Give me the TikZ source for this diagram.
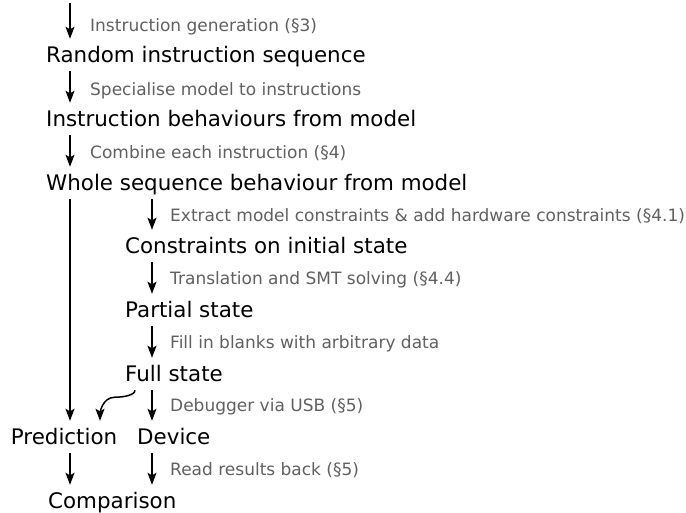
\documentclass[tikz,border=0pt]{standalone}
\usepackage{fontspec}
\setmainfont{DejaVu Sans}
\usetikzlibrary{arrows.meta}
\definecolor{tfink}{HTML}{000000}
\definecolor{tfgrey}{HTML}{606060}
\tikzset{
  tf stage/.style={font=\fontsize{21.4}{25}\selectfont, text=tfink, inner sep=0pt,
    anchor=base west, text height=16pt, text depth=5pt},
  tf note/.style={font=\fontsize{17}{20}\selectfont, text=tfgrey, inner sep=0pt,
    anchor=base west},
  tf arrow/.style={-{Stealth[length=12pt,width=9pt,inset=2.5pt]}, line width=1.5pt,
    draw=tfink, shorten <=4pt, shorten >=7pt}
}

\begin{document}
\begin{tikzpicture}[x=1pt, y=-1pt]
  \useasboundingbox (0,0) rectangle (686,512);
  % stages
  \coordinate (start) at (70,-1);
  \node[tf stage] (rand)  at (46,62)  {Random instruction sequence};
  \node[tf stage] (instr) at (46,126) {Instruction behaviours from model};
  \node[tf stage] (whole) at (46,190) {Whole sequence behaviour from model};
  \node[tf stage] (cons)  at (125,253) {Constraints on initial state};
  \node[tf stage] (part)  at (125,317) {Partial state};
  \node[tf stage] (full)  at (125,381) {Full state};
  \node[tf stage] (pred)  at (10.7,444) {Prediction};
  \node[tf stage] (dev)   at (137,444) {Device};
  \node[tf stage] (comp)  at (48,508) {Comparison};
  % steps between stages
  \node[tf note] (n1) at (90,31.7)  {Instruction generation (§3)};
  \node[tf note] (n2) at (90,95)    {Specialise model to instructions};
  \node[tf note] (n3) at (90,158)   {Combine each instruction (§4)};
  \node[tf note] (n4) at (170,221)  {Extract model constraints \& add hardware constraints (§4.1)};
  \node[tf note] (n5) at (170,284.5) {Translation and SMT solving (§4.4)};
  \node[tf note] (n6) at (170,348)  {Fill in blanks with arbitrary data};
  \node[tf note] (n7) at (170,411.7) {Debugger via USB (§5)};
  \node[tf note] (n8) at (170,475.7) {Read results back (§5)};
  % arrows
  \draw[tf arrow] (start) -- ([xshift=24pt]rand.north west);
  \draw[tf arrow] ([xshift=24pt]rand.south west) -- ([xshift=24pt]instr.north west);
  \draw[tf arrow] ([xshift=24pt]instr.south west) -- ([xshift=24pt]whole.north west);
  \draw[tf arrow] ([xshift=24pt]whole.south west) -- ([xshift=59.3pt]pred.north west);
  \draw[tf arrow] ([xshift=106pt]whole.south west) -- ([xshift=27pt]cons.north west);
  \draw[tf arrow] ([xshift=27pt]cons.south west) -- ([xshift=27pt]part.north west);
  \draw[tf arrow] ([xshift=27pt]part.south west) -- ([xshift=27pt]full.north west);
  \draw[tf arrow] ([xshift=27pt]full.south west) -- ([xshift=15pt]dev.north west);
  \draw[tf arrow] ([xshift=10pt]full.south west) to[out=-90,in=0] ++(-20,11)
    to[out=180,in=90] ([xshift=89.3pt]pred.north west);
  \draw[tf arrow] ([xshift=59.3pt]pred.south west) -- ([xshift=22pt]comp.north west);
  \draw[tf arrow] ([xshift=15pt]dev.south west) -- ([xshift=104pt]comp.north west);
\end{tikzpicture}
\end{document}
